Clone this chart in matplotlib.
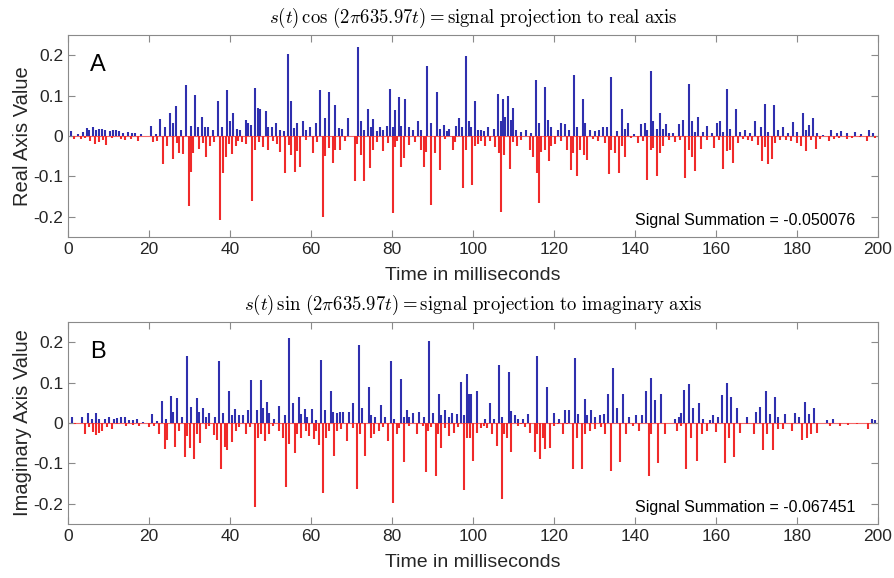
import matplotlib
matplotlib.use("Agg")
import matplotlib.pyplot as plt

# ---- panel A : s(t) cos(...) , positive (blue) and negative (red) stems ----
real_pos_t = [0.74, 2.39, 3.62, 4.61, 5.27, 6.26, 6.91, 7.57, 8.40, 9.22, 10.45, 11.19, 11.85, 12.51,
              13.66, 14.81, 15.80, 16.63, 18.02, 20.49, 21.73, 22.80, 23.95, 25.19, 26.00, 26.75, 27.90,
              29.14, 30.37, 31.44, 32.18, 33.00, 33.90, 34.65, 35.80, 37.04, 38.11, 39.26, 39.92, 40.74,
              41.65, 42.55, 43.87, 44.53, 45.27, 46.26, 46.83, 47.41, 48.81, 49.47, 50.37, 51.36, 52.35,
              53.42, 54.24, 55.06, 55.80, 56.63, 58.02, 58.77, 59.67, 61.23, 62.30, 63.37, 64.53, 65.84,
              67.00, 67.65, 69.14, 71.60, 72.26, 73.09, 74.07, 74.73, 75.39, 76.21, 77.04, 77.70, 78.68,
              79.42, 80.25, 80.82, 81.81, 82.30, 83.29, 84.12, 85.10, 86.42, 87.24, 88.72, 89.55, 91.03,
              91.85, 92.76, 93.66, 94.16, 95.80, 96.63, 97.28, 98.19, 98.93, 99.59, 100.49, 101.23, 102.06,
              102.70, 103.70, 105.20, 106.17, 106.83, 107.49, 107.80, 108.64, 109.30, 109.96, 110.70, 111.90,
              113.16, 114.40, 115.64, 116.20, 117.85, 118.50, 119.33, 120.98, 121.64, 122.63, 123.62, 124.93,
              125.75, 127.24, 127.73, 128.96, 130.20, 131.03, 132.10, 133.00, 134.16, 135.47, 136.79, 137.60,
              138.27, 139.75, 141.40, 142.40, 143.05, 143.87, 144.53, 145.52, 146.17, 147.00, 147.65, 148.48,
              149.47, 150.78, 151.77, 153.25, 154.07, 154.90, 155.55, 156.87, 157.86, 159.00, 160.16, 160.98,
              161.80, 162.63, 163.45, 164.94, 165.93, 167.24, 168.40, 169.70, 171.00, 172.00, 172.80, 174.30,
              175.30, 176.60, 177.70, 179.10, 180.10, 181.40, 182.20, 183.00, 183.87, 185.00, 186.50, 188.50,
              189.80, 190.90, 192.40, 194.20, 195.80, 197.80, 198.80]
real_pos_v = [0.013, 0.005, 0.010, 0.020, 0.015, 0.021, 0.016, 0.018, 0.018, 0.015, 0.012, 0.016, 0.016, 0.013,
              0.008, 0.010, 0.007, 0.008, 0.005, 0.025, 0.005, 0.043, 0.021, 0.058, 0.031, 0.074, 0.016,
              0.127, 0.025, 0.102, 0.023, 0.046, 0.021, 0.023, 0.016, 0.087, 0.023, 0.115, 0.036, 0.056,
              0.018, 0.015, 0.040, 0.031, 0.026, 0.119, 0.069, 0.067, 0.063, 0.023, 0.021, 0.031, 0.015,
              0.013, 0.202, 0.087, 0.020, 0.033, 0.036, 0.016, 0.021, 0.031, 0.114, 0.044, 0.110, 0.077,
              0.020, 0.018, 0.044, 0.221, 0.036, 0.015, 0.067, 0.023, 0.041, 0.013, 0.021, 0.015, 0.025,
              0.117, 0.023, 0.064, 0.097, 0.025, 0.091, 0.021, 0.015, 0.038, 0.015, 0.173, 0.031, 0.109,
              0.018, 0.028, 0.013, 0.018, 0.025, 0.044, 0.021, 0.198, 0.036, 0.021, 0.086, 0.015, 0.015,
              0.013, 0.023, 0.018, 0.105, 0.038, 0.091, 0.048, 0.100, 0.040, 0.069, 0.015, 0.010,
              0.016, 0.007, 0.138, 0.031, 0.120, 0.040, 0.021, 0.015, 0.031, 0.030, 0.015, 0.151,
              0.023, 0.091, 0.033, 0.015, 0.012, 0.015, 0.023, 0.021, 0.145, 0.013, 0.066, 0.018,
              0.033, 0.005, 0.030, 0.031, 0.015, 0.160, 0.036, 0.018, 0.056, 0.018, 0.030, 0.008,
              0.007, 0.030, 0.040, 0.128, 0.038, 0.010, 0.048, 0.010, 0.025, 0.008, 0.031, 0.036,
              0.010, 0.117, 0.018, 0.067, 0.010, 0.015, 0.008, 0.036, 0.021, 0.079, 0.010, 0.076,
              0.015, 0.023, 0.007, 0.035, 0.010, 0.058, 0.015, 0.028, 0.044, 0.007, 0.003, 0.015,
              0.008, 0.012, 0.007, 0.010, 0.005, 0.016, 0.007]
real_neg_t = [1.56, 3.21, 4.28, 5.43, 6.75, 7.74, 8.56, 9.38, 10.86, 13.09, 14.16, 15.64, 17.20, 21.07,
              21.89, 23.53, 24.36, 25.84, 26.91, 27.49, 28.31, 29.79, 30.45, 30.95, 32.26, 33.42, 34.07,
              35.06, 36.05, 37.61, 38.19, 38.93, 39.67, 40.49, 41.48, 41.98, 42.88, 43.95, 45.43, 46.26,
              47.08, 48.07, 49.38, 50.53, 51.52, 52.35, 53.50, 54.49, 55.06, 55.97, 56.63, 57.37, 58.77,
              60.41, 61.40, 62.88, 63.54, 64.53, 65.35, 66.01, 67.16, 68.48, 70.78, 71.44, 72.26, 73.09,
              74.57, 75.39, 76.38, 77.70, 79.00, 80.25, 80.66, 81.32, 82.30, 82.96, 84.12, 85.60, 87.24,
              87.90, 88.48, 89.55, 90.53, 91.85, 93.00, 94.98, 95.64, 97.53, 98.19, 99.75, 100.41, 101.23,
              102.06, 102.88, 104.10, 105.35, 106.34, 107.00, 107.65, 109.14, 109.96, 110.78, 111.93, 113.99,
              114.90, 115.72, 116.20, 116.87, 117.85, 118.68, 119.33, 120.16, 121.81, 123.12, 124.10, 124.77,
              125.58, 126.40, 127.40, 128.20, 129.63, 130.86, 132.50, 133.50, 134.16, 135.00, 136.00, 136.80,
              137.50, 138.90, 140.70, 142.00, 143.05, 143.90, 144.50, 145.35, 146.17, 147.00, 148.30, 149.96,
              151.10, 152.43, 153.25, 154.07, 154.90, 156.20, 157.70, 159.40, 160.70, 161.80, 162.63, 163.45,
              164.27, 165.40, 166.70, 167.90, 169.00, 170.36, 171.35, 172.17, 172.80, 173.80, 174.60, 175.80,
              177.30, 178.40, 179.90, 181.00, 182.20, 183.50, 184.70, 185.70, 187.80, 189.10, 190.30, 192.40,
              193.70, 195.60, 197.30, 199.30]
real_neg_v = [-0.007, -0.008, -0.005, -0.012, -0.020, -0.015, -0.010, -0.023, -0.005, -0.007, -0.010, -0.008,
              -0.012, -0.015, -0.013, -0.069, -0.025, -0.058, -0.018, -0.043, -0.044, -0.173, -0.089, -0.043,
              -0.033, -0.018, -0.053, -0.026, -0.015, -0.207, -0.092, -0.051, -0.020, -0.044, -0.025, -0.012,
              -0.015, -0.020, -0.161, -0.035, -0.015, -0.028, -0.035, -0.012, -0.020, -0.040, -0.091, -0.023,
              -0.048, -0.089, -0.038, -0.077, -0.010, -0.041, -0.015, -0.201, -0.049, -0.030, -0.067, -0.035,
              -0.035, -0.013, -0.112, -0.020, -0.046, -0.112, -0.079, -0.035, -0.015, -0.038, -0.018, -0.191,
              -0.028, -0.013, -0.077, -0.054, -0.023, -0.015, -0.035, -0.076, -0.040, -0.170, -0.043, -0.084,
              -0.007, -0.035, -0.015, -0.130, -0.035, -0.122, -0.025, -0.020, -0.012, -0.026, -0.013, -0.028,
              -0.043, -0.189, -0.046, -0.082, -0.015, -0.026, -0.010, -0.035, -0.051, -0.092, -0.166, -0.040,
              -0.035, -0.063, -0.026, -0.020, -0.013, -0.035, -0.084, -0.043, -0.100, -0.035, -0.046, -0.059,
              -0.007, -0.013, -0.018, -0.095, -0.035, -0.043, -0.092, -0.025, -0.053, -0.005, -0.018, -0.013,
              -0.109, -0.035, -0.030, -0.100, -0.043, -0.025, -0.010, -0.015, -0.010, -0.105, -0.035, -0.051,
              -0.086, -0.033, -0.010, -0.031, -0.010, -0.082, -0.036, -0.035, -0.067, -0.018, -0.007, -0.010,
              -0.013, -0.023, -0.063, -0.028, -0.069, -0.058, -0.018, -0.010, -0.010, -0.013, -0.018, -0.026,
              -0.036, -0.010, -0.033, -0.007, -0.012, -0.007, -0.005, -0.008, -0.005, -0.003, -0.012, -0.005]

# ---- panel B : s(t) sin(...) ----
imag_pos_t = [0.99, 3.46, 4.94, 5.93, 6.91, 7.74, 9.05, 10.20, 11.36, 12.18, 13.17, 13.99, 15.14, 15.97,
              16.95, 18.44, 20.74, 21.89, 23.21, 24.20, 25.51, 26.00, 26.99, 28.15, 29.47, 30.45, 31.77,
              32.43, 33.42, 34.07, 34.90, 36.20, 37.37, 38.19, 39.67, 40.49, 41.32, 42.30, 43.13, 44.44,
              45.27, 46.58, 47.57, 48.07, 49.05, 49.71, 50.86, 52.18, 53.50, 54.49, 55.47, 56.95, 57.44,
              58.44, 59.09, 60.25, 61.23, 62.55, 63.37, 64.86, 65.35, 66.50, 67.16, 67.98, 69.46, 70.45,
              71.77, 72.59, 74.24, 74.90, 75.72, 77.37, 78.35, 79.67, 80.49, 82.14, 82.96, 83.62, 84.28,
              85.27, 86.75, 87.90, 89.05, 90.20, 91.52, 92.18, 93.00, 94.16, 94.81, 95.97, 97.12, 97.78,
              98.44, 98.93, 99.59, 100.90, 103.00, 104.20, 105.20, 106.50, 107.16, 108.80, 109.47, 110.30,
              111.10, 112.40, 113.58, 115.90, 118.20, 119.99, 121.30, 122.80, 123.78, 125.26, 125.92, 127.73,
              128.20, 129.20, 130.20, 131.37, 132.35, 133.33, 134.65, 135.50, 137.10, 138.60, 140.25, 141.70,
              142.60, 144.00, 145.00, 146.50, 149.80, 150.80, 151.30, 152.10, 153.40, 154.20, 155.90, 156.90,
              158.50, 159.20, 160.50, 161.50, 162.80, 163.80, 165.30, 167.60, 169.90, 170.90, 172.40, 173.40,
              174.50, 175.30, 177.10, 179.60, 180.60, 181.90, 182.90, 184.20, 187.50, 188.80, 198.40, 199.30]
imag_pos_v = [0.015, 0.015, 0.024, 0.010, 0.024, 0.010, 0.011, 0.015, 0.010, 0.013, 0.015, 0.016, 0.007, 0.008,
              0.010, 0.003, 0.023, 0.005, 0.054, 0.010, 0.067, 0.028, 0.062, 0.016, 0.166, 0.039, 0.062,
              0.028, 0.037, 0.016, 0.026, 0.015, 0.154, 0.024, 0.078, 0.021, 0.034, 0.021, 0.020, 0.033,
              0.107, 0.031, 0.107, 0.037, 0.052, 0.024, 0.011, 0.042, 0.020, 0.210, 0.049, 0.065, 0.023,
              0.034, 0.016, 0.034, 0.008, 0.156, 0.033, 0.078, 0.028, 0.026, 0.028, 0.028, 0.028, 0.049,
              0.193, 0.037, 0.088, 0.021, 0.016, 0.044, 0.016, 0.154, 0.010, 0.109, 0.015, 0.033, 0.016,
              0.024, 0.028, 0.016, 0.203, 0.024, 0.073, 0.021, 0.033, 0.016, 0.024, 0.023, 0.101, 0.021,
              0.122, 0.073, 0.073, 0.078, 0.011, 0.049, 0.011, 0.143, 0.016, 0.127, 0.029, 0.021,
              0.011, 0.011, 0.023, 0.166, 0.089, 0.024, 0.011, 0.031, 0.033, 0.161, 0.023, 0.060,
              0.021, 0.031, 0.016, 0.020, 0.023, 0.072, 0.135, 0.037, 0.072, 0.016, 0.020, 0.021,
              0.078, 0.111, 0.057, 0.072, 0.011, 0.016, 0.024, 0.081, 0.096, 0.037, 0.049, 0.011,
              0.008, 0.021, 0.015, 0.070, 0.098, 0.065, 0.036, 0.016, 0.028, 0.039, 0.080, 0.023,
              0.065, 0.016, 0.023, 0.026, 0.015, 0.052, 0.023, 0.037, 0.008, 0.010, 0.011, 0.008]
imag_neg_t = [1.81, 4.28, 5.27, 6.09, 6.91, 7.74, 8.40, 9.71, 10.86, 12.00, 14.40, 15.97, 17.45, 20.08,
              21.20, 22.55, 23.87, 24.52, 26.50, 27.30, 28.80, 29.47, 30.12, 31.11, 31.77, 32.59, 34.07,
              34.90, 36.05, 36.70, 37.86, 38.68, 39.18, 40.49, 41.48, 42.30, 43.95, 44.94, 46.09, 46.91,
              47.74, 48.72, 49.71, 50.70, 52.00, 53.17, 53.83, 54.65, 55.97, 56.63, 57.60, 58.77, 59.60,
              60.74, 61.23, 62.06, 63.04, 63.70, 64.53, 65.68, 66.50, 67.30, 68.80, 70.45, 71.27, 72.10,
              73.42, 74.90, 75.56, 76.70, 77.86, 79.00, 80.33, 81.15, 81.80, 82.96, 84.28, 86.25, 87.57,
              88.40, 88.90, 89.70, 90.86, 91.36, 92.18, 93.00, 94.00, 95.30, 96.30, 97.78, 98.60, 99.26,
              100.08, 101.07, 101.90, 102.70, 103.50, 104.70, 105.86, 107.16, 107.65, 108.30, 109.47, 111.10,
              111.76, 112.90, 114.07, 115.23, 115.72, 116.54, 117.20, 117.70, 119.00, 119.99, 121.00, 122.30,
              123.10, 124.60, 125.60, 126.90, 127.73, 128.88, 130.20, 131.70, 132.50, 134.00, 136.30, 137.80,
              139.60, 141.10, 143.40, 144.00, 145.80, 147.30, 150.30, 151.40, 152.70, 153.90, 155.20, 156.50,
              157.70, 160.00, 162.10, 163.30, 164.50, 165.90, 167.60, 169.40, 171.70, 172.70, 174.00, 175.30,
              176.50, 178.70, 181.20, 182.40, 183.40, 185.00, 188.10, 190.60, 192.70, 194.70, 197.50]
imag_neg_v = [-0.003, -0.028, -0.011, -0.023, -0.029, -0.024, -0.020, -0.011, -0.015, -0.003, -0.008, -0.005,
              -0.007, -0.011, -0.007, -0.028, -0.065, -0.042, -0.060, -0.020, -0.083, -0.033, -0.063, -0.089,
              -0.028, -0.049, -0.015, -0.008, -0.029, -0.042, -0.114, -0.060, -0.068, -0.046, -0.020, -0.011,
              -0.028, -0.011, -0.207, -0.036, -0.028, -0.044, -0.028, -0.008, -0.020, -0.036, -0.158, -0.052,
              -0.073, -0.028, -0.036, -0.020, -0.031, -0.039, -0.021, -0.054, -0.174, -0.036, -0.020, -0.081,
              -0.020, -0.016, -0.044, -0.013, -0.164, -0.028, -0.081, -0.036, -0.028, -0.020, -0.010, -0.044,
              -0.197, -0.028, -0.013, -0.096, -0.007, -0.028, -0.008, -0.122, -0.020, -0.011, -0.132, -0.028,
              -0.062, -0.013, -0.033, -0.024, -0.010, -0.166, -0.036, -0.036, -0.094, -0.024, -0.013, -0.008,
              -0.013, -0.028, -0.057, -0.189, -0.028, -0.036, -0.072, -0.008, -0.003, -0.010, -0.024, -0.072,
              -0.028, -0.089, -0.036, -0.065, -0.062, -0.008, -0.003, -0.028, -0.003, -0.114, -0.036, -0.114,
              -0.028, -0.020, -0.015, -0.010, -0.028, -0.119, -0.096, -0.028, -0.007, -0.020, -0.132, -0.028,
              -0.098, -0.026, -0.020, -0.008, -0.114, -0.036, -0.094, -0.028, -0.021, -0.023, -0.098, -0.036,
              -0.083, -0.024, -0.003, -0.028, -0.067, -0.028, -0.068, -0.016, -0.015, -0.020, -0.042, -0.036,
              -0.028, -0.024, -0.007, -0.007, -0.005, -0.003, -0.015]

panels = [
    dict(pos_t=real_pos_t, pos_v=real_pos_v, neg_t=real_neg_t, neg_v=real_neg_v, letter="A",
         title=r"$s(t)\,\cos\,(2\pi635.97t) = \mathrm{signal\ projection\ to\ real\ axis}$",
         ylabel="Real Axis Value", summ="Signal Summation = -0.050076"),
    dict(pos_t=imag_pos_t, pos_v=imag_pos_v, neg_t=imag_neg_t, neg_v=imag_neg_v, letter="B",
         title=r"$s(t)\,\sin\,(2\pi635.97t) = \mathrm{signal\ projection\ to\ imaginary\ axis}$",
         ylabel="Imaginary Axis Value", summ="Signal Summation = -0.067451"),
]

plt.rcParams['mathtext.fontset'] = 'cm'
plt.rcParams['font.family'] = ['Liberation Sans', 'DejaVu Sans']

blue = '#2f2fae'
red = '#f02a2a'
grey = '#8a8a8a'

fig = plt.figure(figsize=(8.95, 5.78), dpi=100)
boxes = [[0.076, 0.590, 0.905, 0.3495], [0.076, 0.0934, 0.905, 0.3495]]

for box, p in zip(boxes, panels):
    ax = fig.add_axes(box)
    ax.axhline(0, color=red, lw=0.8, alpha=0.7, zorder=1)
    ax.vlines(p['pos_t'], 0, p['pos_v'], color=blue, lw=1.5, zorder=2)
    ax.vlines(p['neg_t'], p['neg_v'], 0, color=red, lw=1.5, zorder=2)
    ax.set_xlim(0, 200)
    ax.set_ylim(-0.25, 0.25)
    ax.set_xticks(range(0, 201, 20))
    ax.set_yticks([-0.2, -0.1, 0, 0.1, 0.2])
    ax.set_yticklabels(['-0.2', '-0.1', '0', '0.1', '0.2'])
    ax.tick_params(direction='in', top=True, right=True, length=5, color=grey,
                   labelsize=12.5, labelcolor='#262626')
    for s in ax.spines.values():
        s.set_color(grey)
    ax.set_xlabel("Time in milliseconds", fontsize=14, color='#262626', labelpad=7)
    ax.set_ylabel(p['ylabel'], fontsize=14.5, color='#262626', labelpad=1)
    ax.set_title(p['title'], fontsize=13.5, pad=9)
    ax.text(0.037, 0.85, p['letter'], transform=ax.transAxes, fontsize=17,
            ha='center', va='center', color='black')
    ax.text(0.972, 0.084, p['summ'], transform=ax.transAxes, fontsize=11.5,
            ha='right', va='center', color='black')

fig.savefig("out.png", dpi=100)
